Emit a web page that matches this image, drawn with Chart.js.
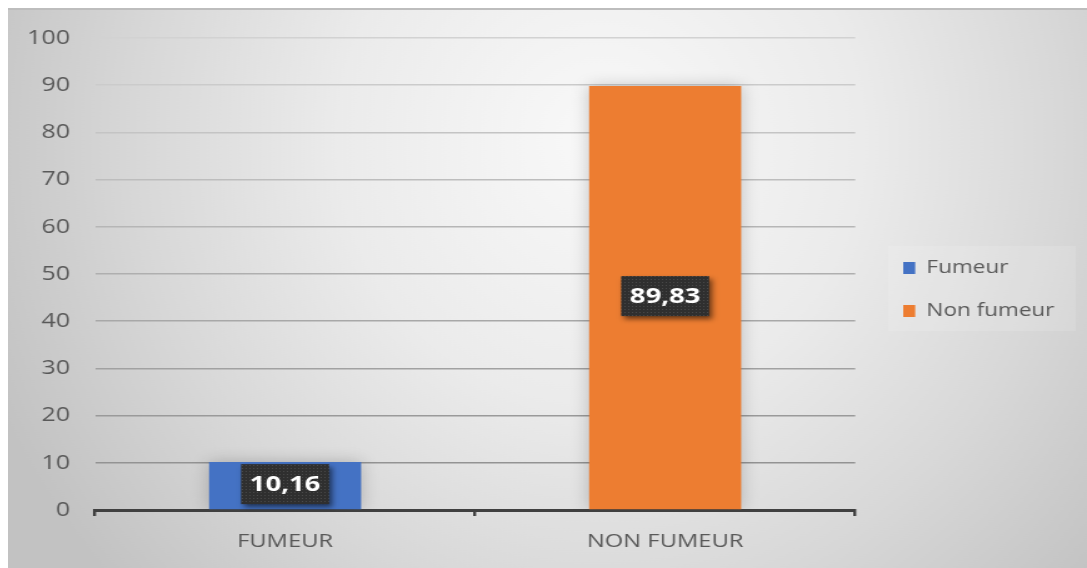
<!DOCTYPE html>
<html lang="fr">
<head>
<meta charset="utf-8">
<title>Fumeur / Non fumeur</title>
<script src="https://cdn.jsdelivr.net/npm/chart.js@4.4.1/dist/chart.umd.min.js"></script>
<style>
  html, body { margin: 0; padding: 0; background: #ffffff; }
  body { width: 1087px; height: 568px; overflow: hidden; position: relative; }
  /* the canvas is laid out narrow and widened horizontally */
  #frame {
    position: absolute; left: 8px; top: 8px;
    width: 863px; height: 560px;
    transform: scaleX(1.2503); transform-origin: 0 0;
  }
</style>
</head>
<body>
<div id="frame"><canvas id="chart"></canvas></div>
<script>
// ---- data ----
const categories = ['FUMEUR', 'NON FUMEUR'];
const seriesNames = ['Fumeur', 'Non fumeur'];
const fumeurValues = [10.16, null];
const nonFumeurValues = [null, 89.83];
const yMin = 0;
const yMax = 100;
const yStep = 10;

const seriesColors = ['#4472C4', '#ED7D31'];
const textGrey = '#595959';
const FONT = '"Open Sans", "DejaVu Sans", sans-serif';

// gridlines get darker towards the bottom of the plot
function gridShade(value) {
  const top = 0xd2, bottom = 0x8c;
  const c = Math.round(bottom + (top - bottom) * (value - yMin) / (yMax - yMin));
  return 'rgb(' + c + ',' + c + ',' + c + ')';
}

function formatFr(v) {
  return v.toFixed(2).replace('.', ',');
}

// soft radial backdrop of the frame, plus the lighter legend panel
const frameBackground = {
  id: 'frameBackground',
  beforeInit(chart) {
    const legend = chart.legend;
    if (legend) {
      const baseFit = legend.fit;
      legend.fit = function () {
        baseFit.call(this);
        this.width = 172;
      };
    }
  },
  beforeDraw(chart) {
    const { ctx, width, height } = chart;
    ctx.save();
    const cx = 474, cy = 132, sx = 0.8;
    ctx.translate(cx, cy);
    ctx.scale(sx, 1);
    const g = ctx.createRadialGradient(0, 0, 0, 0, 0, 660);
    g.addColorStop(0, '#f9f9f9');
    g.addColorStop(0.4, '#ebebeb');
    g.addColorStop(0.7, '#d8d8d8');
    g.addColorStop(1, '#c2c2c2');
    ctx.fillStyle = g;
    ctx.fillRect(-cx / sx, -cy, width / sx, height);
    ctx.restore();

    ctx.save();
    ctx.fillStyle = '#bdbdbd';
    ctx.fillRect(0, 0, width, 2);
    const hb = chart.legend && chart.legend.legendHitBoxes;
    if (hb && hb.length) {
      const first = hb[0], last = hb[hb.length - 1];
      ctx.fillStyle = 'rgba(255,255,255,0.13)';
      ctx.fillRect(first.left - 12, first.top - 13, 150, last.top + last.height + 11 - (first.top - 13));
    }
    ctx.restore();
  }
};

// bar shadow + value boxes centred in each bar
const valueBoxes = {
  id: 'valueBoxes',
  beforeDatasetsDraw(chart) {
    const ctx = chart.ctx;
    ctx.save();
    ctx.shadowColor = 'rgba(0,0,0,0.22)';
    ctx.shadowBlur = 14;
    ctx.shadowOffsetX = 0;
    ctx.shadowOffsetY = 0;
  },
  afterDatasetsDraw(chart) {
    const ctx = chart.ctx;
    ctx.restore();

    const pc = document.createElement('canvas');
    pc.width = 3; pc.height = 3;
    const p = pc.getContext('2d');
    p.fillStyle = '#2f2f2f';
    p.fillRect(0, 0, 3, 3);
    p.fillStyle = '#4a4a4a';
    p.fillRect(1, 1, 1, 1);
    const pattern = ctx.createPattern(pc, 'repeat');

    chart.data.datasets.forEach((ds, di) => {
      const meta = chart.getDatasetMeta(di);
      meta.data.forEach((bar, i) => {
        const v = ds.data[i];
        if (v === null || v === undefined) return;
        const cx = bar.x;
        const cy = (bar.y + bar.base) / 2 - 1.5;
        const w = 70.4, h = 40;
        ctx.save();
        ctx.shadowColor = 'rgba(0,0,0,0.55)';
        ctx.shadowBlur = 5;
        ctx.shadowOffsetX = 2.4;
        ctx.shadowOffsetY = 3;
        ctx.fillStyle = pattern;
        ctx.fillRect(cx - w / 2, cy - h / 2, w, h);
        ctx.restore();

        ctx.save();
        ctx.font = 'bold 22px ' + FONT;
        ctx.fillStyle = '#ffffff';
        ctx.textAlign = 'center';
        ctx.textBaseline = 'middle';
        ctx.fillText(formatFr(v), cx, cy + 1);
        ctx.restore();
      });
    });
  }
};

function build() {
  new Chart(document.getElementById('chart'), {
    type: 'bar',
    data: {
      labels: categories,
      datasets: [
        { label: seriesNames[0], data: fumeurValues, backgroundColor: seriesColors[0], borderWidth: 0 },
        { label: seriesNames[1], data: nonFumeurValues, backgroundColor: seriesColors[1], borderWidth: 0 }
      ]
    },
    options: {
      responsive: true,
      maintainAspectRatio: false,
      animation: false,
      skipNull: true,
      layout: { padding: { top: 3, left: 0, right: 0, bottom: 0 } },
      datasets: { bar: { categoryPercentage: 1.0, barPercentage: 0.4 } },
      scales: {
        x: {
          type: 'category',
          offset: true,
          grid: {
            display: true, offset: true, drawOnChartArea: false, drawTicks: true,
            tickLength: 6, lineWidth: 2.4, color: '#404040'
          },
          border: { display: true, color: '#404040', width: 3 },
          ticks: { color: textGrey, font: { family: FONT, size: 19 }, padding: 14, maxRotation: 0 },
          afterFit(s) { s.height = 58; }
        },
        y: {
          type: 'linear',
          position: 'left',
          min: yMin, max: yMax,
          grid: {
            drawTicks: false, lineWidth: 1.6,
            color: (c) => gridShade(c.tick ? c.tick.value : 0)
          },
          border: { display: false },
          ticks: { stepSize: yStep, color: textGrey, font: { family: FONT, size: 20 }, padding: 20 },
          afterFit(s) { s.width = 69.6; s.paddingTop = 30; }
        },
        gap: {
          type: 'linear',
          position: 'right',
          display: true,
          grid: { display: false },
          border: { display: false },
          ticks: { display: false },
          afterFit(s) { s.width = 13.4; }
        }
      },
      plugins: {
        tooltip: { enabled: false },
        legend: {
          position: 'right',
          align: 'center',
          labels: {
            color: textGrey,
            font: { family: FONT, size: 18 },
            boxWidth: 9.6,
            boxHeight: 12,
            padding: 25
          }
        }
      }
    },
    plugins: [frameBackground, valueBoxes]
  });
}

if (document.fonts && document.fonts.load) {
  Promise.all([
    document.fonts.load('19px "Open Sans"'),
    document.fonts.load('bold 22px "Open Sans"')
  ]).then(build, build);
} else {
  build();
}
</script>
</body>
</html>
